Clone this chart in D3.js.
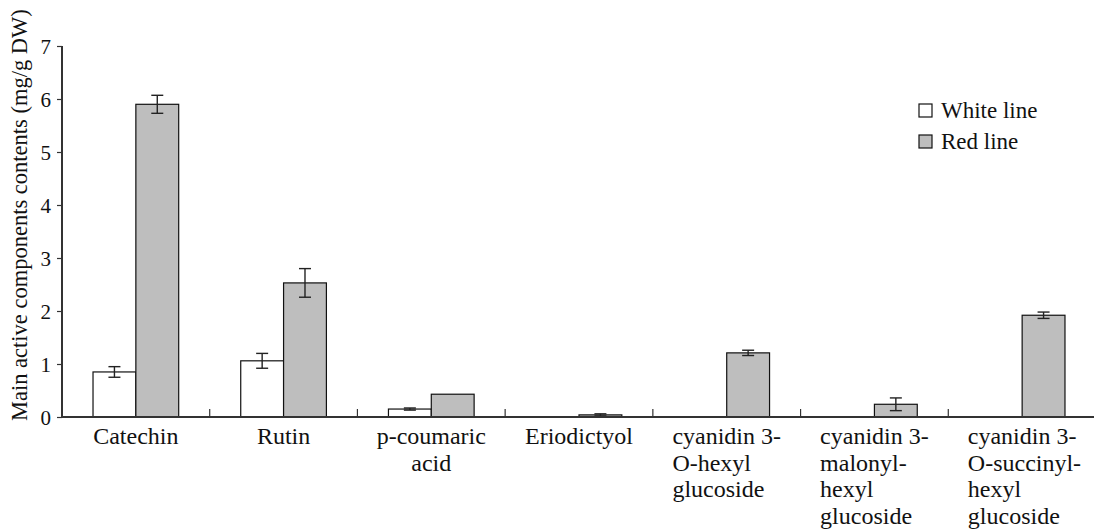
<!DOCTYPE html>
<html>
<head>
<meta charset="utf-8">
<script src="https://cdn.jsdelivr.net/npm/d3@7"></script>
<style>
  body { margin: 0; background: #fff; }
  svg text { font-family: "Liberation Serif", "DejaVu Serif", serif; }
</style>
</head>
<body>
<div id="chart"></div>
<script>
// data
var categories = ["Catechin", "Rutin", "p-coumaric acid", "Eriodictyol",
    "cyanidin 3-O-hexyl glucoside", "cyanidin 3-malonyl-hexyl glucoside",
    "cyanidin 3-O-succinyl-hexyl glucoside"];
var labelLines = [["Catechin"], ["Rutin"], ["p-coumaric", "acid"], ["Eriodictyol"],
    ["cyanidin 3-", "O-hexyl", "glucoside"],
    ["cyanidin 3-", "malonyl-", "hexyl", "glucoside"],
    ["cyanidin 3-", "O-succinyl-", "hexyl", "glucoside"]];
var seriesNames = ["White line", "Red line"];
var whiteValues = [0.85, 1.06, 0.15, 0, 0, 0, 0];
var whiteErrors = [0.10, 0.14, 0.02, 0, 0, 0, 0];
var redValues = [5.90, 2.53, 0.43, 0.04, 1.21, 0.24, 1.92];
var redErrors = [0.17, 0.27, 0, 0.02, 0.05, 0.12, 0.06];
var yTicks = [0, 1, 2, 3, 4, 5, 6, 7];
var yTitle = "Main active components contents (mg/g DW)";

var width = 1094, height = 530,
    plotLeft = 62, plotRight = 1096, plotTop = 46, plotBottom = 417;

var fills = {"White line": "#ffffff", "Red line": "#bebebe"};

var svg = d3.select("#chart").append("svg")
    .attr("width", width)
    .attr("height", height)
    .style("display", "block");

var x0 = d3.scaleBand().domain(categories).range([plotLeft, plotRight]);
var bw = x0.bandwidth();
var x1 = d3.scaleBand().domain(seriesNames).range([bw * 0.21, bw * 0.79]);
var y = d3.scaleLinear().domain([0, 7]).range([plotBottom, plotTop]);

var rows = categories.map(function(c, i) {
    return {cat: c, vals: [
        {s: seriesNames[0], v: whiteValues[i], e: whiteErrors[i]},
        {s: seriesNames[1], v: redValues[i], e: redErrors[i]}
    ]};
});

// bars
var groups = svg.selectAll(".grp")
    .data(rows)
    .enter().append("g")
    .attr("class", "grp")
    .attr("transform", function(d) { return "translate(" + x0(d.cat) + ",0)"; });

groups.selectAll("rect")
    .data(function(d) { return d.vals.filter(function(b) { return b.v > 0; }); })
    .enter().append("rect")
    .attr("x", function(d) { return x1(d.s); })
    .attr("y", function(d) { return y(d.v); })
    .attr("width", x1.bandwidth())
    .attr("height", function(d) { return y(0) - y(d.v); })
    .style("fill", function(d) { return fills[d.s]; })
    .style("stroke", "#111")
    .style("stroke-width", 1.2);

// error bars
var eb = groups.selectAll(".err")
    .data(function(d) { return d.vals.filter(function(b) { return b.e > 0; }); })
    .enter().append("g")
    .attr("class", "err")
    .style("stroke", "#222")
    .style("stroke-width", 1.4);
eb.append("line")
    .attr("x1", function(d) { return x1(d.s) + x1.bandwidth() / 2; })
    .attr("x2", function(d) { return x1(d.s) + x1.bandwidth() / 2; })
    .attr("y1", function(d) { return y(d.v + d.e); })
    .attr("y2", function(d) { return y(d.v - d.e); });
[1, -1].forEach(function(sign) {
    eb.append("line")
        .attr("x1", function(d) { return x1(d.s) + x1.bandwidth() / 2 - 6; })
        .attr("x2", function(d) { return x1(d.s) + x1.bandwidth() / 2 + 6; })
        .attr("y1", function(d) { return y(d.v + sign * d.e); })
        .attr("y2", function(d) { return y(d.v + sign * d.e); });
});

// y axis
var yAxis = svg.append("g")
    .attr("transform", "translate(" + plotLeft + ",0)")
    .call(d3.axisLeft(y).tickValues(yTicks).tickFormat(d3.format("d")).tickSize(5).tickPadding(6));
yAxis.attr("font-family", null).attr("font-size", null);
yAxis.select(".domain").attr("d", "M0," + plotTop + "V" + plotBottom).style("stroke", "#333").style("stroke-width", 2);
yAxis.selectAll(".tick line").style("stroke", "#333").style("stroke-width", 1.2);
yAxis.selectAll(".tick text")
    .style("font-size", "21px")
    .style("fill", "#111")
    .attr("dy", "0.34em");

// x axis with separator ticks between categories
var xAxis = svg.append("g");
xAxis.append("line")
    .attr("x1", plotLeft).attr("x2", plotRight)
    .attr("y1", plotBottom).attr("y2", plotBottom)
    .style("stroke", "#333").style("stroke-width", 2);
xAxis.selectAll(".sep")
    .data(categories.slice(1))
    .enter().append("line")
    .attr("x1", function(d) { return x0(d); })
    .attr("x2", function(d) { return x0(d); })
    .attr("y1", plotBottom).attr("y2", plotBottom - 8)
    .style("stroke", "#333").style("stroke-width", 1.2);

// category labels
var labels = svg.selectAll(".xlab")
    .data(categories)
    .enter().append("text")
    .attr("class", "xlab")
    .style("font-size", "24px")
    .style("fill", "#111");
labels.each(function(c, i) {
    var t = d3.select(this), lines = labelLines[i];
    var cx = x0(c) + bw / 2;
    lines.forEach(function(l, j) {
        t.append("tspan").attr("y", 444 + j * 26.5).text(l);
    });
    if (lines.length > 2) {
        // first line centred, the rest flush left with it
        var w = t.select("tspan").node().getComputedTextLength();
        t.attr("text-anchor", "start").selectAll("tspan").attr("x", cx - w / 2);
    } else {
        t.attr("text-anchor", "middle").selectAll("tspan").attr("x", cx);
    }
});

// y title
svg.append("text")
    .attr("transform", "rotate(-90)")
    .attr("x", -421)
    .attr("y", 27)
    .style("font-size", "22.5px")
    .style("fill", "#111")
    .text(yTitle);

// legend
var legend = svg.selectAll(".leg")
    .data(seriesNames)
    .enter().append("g")
    .attr("class", "leg")
    .attr("transform", function(d, i) { return "translate(919," + (104 + i * 31) + ")"; });
legend.append("rect")
    .attr("width", 13).attr("height", 13)
    .style("fill", function(d) { return fills[d]; })
    .style("stroke", "#111").style("stroke-width", 1.2);
legend.append("text")
    .attr("x", 22).attr("y", 13.5)
    .style("font-size", "23px")
    .style("fill", "#111")
    .text(function(d) { return d; });
</script>
</body>
</html>
